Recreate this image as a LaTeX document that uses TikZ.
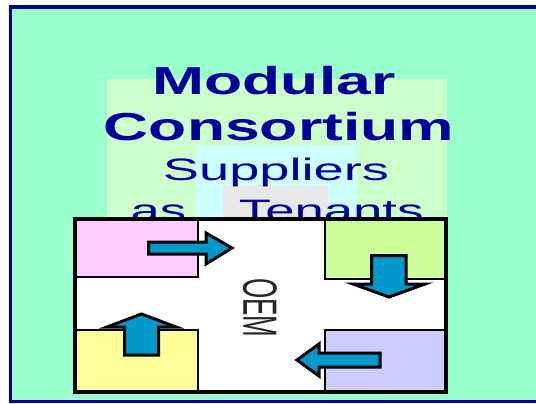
\documentclass[tikz,border=0pt]{standalone}
\usepackage{fontspec}
\setmainfont{Liberation Sans}
\definecolor{BackClr}{rgb}{0.6,1,0.8}
\definecolor{FrameClr}{rgb}{0,0,0.6}
\definecolor{PaleClr}{rgb}{0.8,1,0.8}
\definecolor{CyanClr}{rgb}{0.8,1,1}
\definecolor{GreyClr}{rgb}{0.91,0.91,0.91}
\definecolor{PinkClr}{rgb}{1,0.8,1}
\definecolor{LimeClr}{rgb}{0.8,1,0.6}
\definecolor{YellowClr}{rgb}{1,1,0.6}
\definecolor{LilacClr}{rgb}{0.8,0.8,1}
\definecolor{ArrowClr}{rgb}{0,0.6,0.8}

\begin{document}
\begin{tikzpicture}[x=1pt,y=-1pt,
  tenant/.style={draw=black,line width=1.5pt},
  block/.style={fill=ArrowClr,draw=black,line width=3pt},
  title/.style={text=FrameClr,inner sep=0pt,anchor=base}]
\useasboundingbox (0,0) rectangle (536,404);
\clip (0,0) rectangle (536,404);
\filldraw[fill=BackClr,draw=FrameClr,line width=3.5pt] (10.5,7) rectangle (560,401.5);

\fill[PaleClr] (107,79) rectangle (447,219);
\fill[CyanClr] (196,145) rectangle (357,219);
\fill[GreyClr] (223,185) rectangle (328,219);

\node[title,xscale=1.6,font=\fontsize{39}{39}\selectfont\bfseries] (modular) at (274,95) {Modular};
\node[title,xscale=1.6,font=\fontsize{39}{39}\selectfont\bfseries] (consortium) at (279,140) {Consortium};
\node[title,xscale=1.75,font=\fontsize{31}{31}\selectfont] (suppliers) at (276,180) {Suppliers};
\node[title,xscale=1.7,font=\fontsize{31}{31}\selectfont] (tenants) at (277,221) {as\quad Tenants};

\fill[white] (74.7,219) rectangle (446,392);
\filldraw[tenant,fill=PinkClr] (74.7,219) rectangle (198,277);
\filldraw[tenant,fill=LimeClr] (325,219) rectangle (446,279);
\filldraw[tenant,fill=YellowClr] (74.7,330) rectangle (198,392);
\filldraw[tenant,fill=LilacClr] (325,330) rectangle (446,392);

\filldraw[block] (148.5,242) -- (206,242) -- (206,233) -- (232,248) -- (206,264) -- (206,254) -- (148.5,254) -- cycle;
\filldraw[block] (371.5,255.5) -- (406,255.5) -- (406,284) -- (425,284) -- (389,297) -- (353,284) -- (371.5,284) -- cycle;
\filldraw[block] (124.5,355) -- (124.5,327) -- (107,327) -- (141.5,314) -- (176,327) -- (158.5,327) -- (158.5,355) -- cycle;
\filldraw[block] (380,353) -- (319,353) -- (319,344) -- (297,360) -- (319,376) -- (319,367) -- (380,367) -- cycle;

\draw[line width=4pt] (74.7,219) rectangle (446,392);

\node[inner sep=0pt,text=black!85,xscale=1.85,rotate=-90,font=\fontsize{26}{26}\selectfont] (oem) at (260,308) {OEM};
\end{tikzpicture}
\end{document}
